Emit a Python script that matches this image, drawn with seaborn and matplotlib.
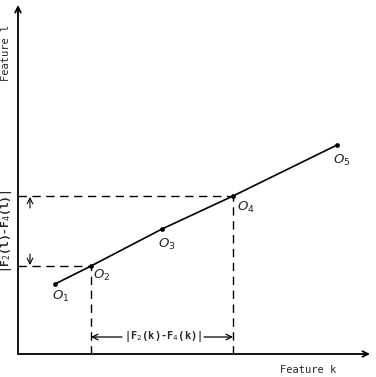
import matplotlib
matplotlib.use("Agg")
import matplotlib.pyplot as plt
import seaborn as sns
import pandas as pd

sns.set_style("white")
plt.rcParams['font.family'] = ['DejaVu Sans']

# object positions along the two features
point_names = ["O_1", "O_2", "O_3", "O_4", "O_5"]
feature_k = [37, 73, 144, 215, 319]
feature_l = [70, 88, 125, 158, 209]
label_offsets = [(-2, -9), (1.5, -7), (-3, -11), (3, -8), (-3, -11)]
k_max = 352
l_max = 349

df = pd.DataFrame({"k": feature_k, "l": feature_l, "name": point_names})

fig = plt.figure(figsize=(3.76, 3.77), dpi=100)
ax = fig.add_axes([18 / 376, 23 / 377, 352 / 376, 349 / 377])
ax.set_xlim(0, k_max)
ax.set_ylim(0, l_max)
for s in ax.spines.values():
    s.set_visible(False)
ax.set_xticks([])
ax.set_yticks([])

# axes with arrows
ax.annotate("", xy=(k_max, 0), xytext=(0, 0),
            arrowprops=dict(arrowstyle="->", lw=1.3, color="black", shrinkA=0, shrinkB=0),
            annotation_clip=False)
ax.annotate("", xy=(0, l_max), xytext=(0, 0),
            arrowprops=dict(arrowstyle="->", lw=1.3, color="black", shrinkA=0, shrinkB=0),
            annotation_clip=False)

sns.lineplot(data=df, x="k", y="l", ax=ax, color="black", lw=1.2, sort=True)
sns.scatterplot(data=df, x="k", y="l", ax=ax, color="black", s=10, edgecolor="black", zorder=3)
ax.set_xlabel("")
ax.set_ylabel("")

for i in range(len(point_names)):
    ax.annotate("$" + point_names[i] + "$", (feature_k[i], feature_l[i]),
                xytext=label_offsets[i], textcoords="offset points",
                fontsize=9.5, ha="left", va="center")

# dashed projections of O2 and O4
dash = dict(color="black", lw=1.0, ls=(0, (6, 4)))
for i in [1, 3]:
    ax.plot([0, feature_k[i]], [feature_l[i], feature_l[i]], **dash)
    ax.plot([feature_k[i], feature_k[i]], [0, feature_l[i]], **dash)

mono = ["DejaVu Sans Mono"]

# horizontal distance arrow
y_arr = 17
ax.annotate("", xy=(feature_k[1], y_arr), xytext=(104, y_arr),
            arrowprops=dict(arrowstyle="->", lw=0.9, color="black", shrinkA=0, shrinkB=0))
ax.annotate("", xy=(feature_k[3], y_arr), xytext=(186, y_arr),
            arrowprops=dict(arrowstyle="->", lw=0.9, color="black", shrinkA=0, shrinkB=0))
ax.text((feature_k[1] + feature_k[3]) / 2 + 1, y_arr, "|F$_2$(k)-F$_4$(k)|",
        family=mono, fontsize=7.5, fontweight="bold", ha="center", va="center")

# vertical distance arrows
ax.annotate("", xy=(12, feature_l[3] - 1), xytext=(12, feature_l[3] - 12),
            arrowprops=dict(arrowstyle="->", lw=0.8, color="black", shrinkA=0, shrinkB=0))
ax.annotate("", xy=(12, feature_l[1] + 1), xytext=(12, feature_l[1] + 12),
            arrowprops=dict(arrowstyle="->", lw=0.8, color="black", shrinkA=0, shrinkB=0))
fig.text(7 / 376, 1 - 231 / 377, "|F$_2$(l)-F$_4$(l)|", family=mono, fontsize=8,
         fontweight="bold", rotation=90, ha="center", va="center")

fig.text(6 / 376, 1 - 53 / 377, "Feature l", family=mono, fontsize=7.5,
         rotation=90, ha="center", va="center")
fig.text(308 / 376, 1 - 370 / 377, "Feature k", family=mono, fontsize=7.5,
         ha="center", va="center")

fig.savefig("out.png", dpi=100)
